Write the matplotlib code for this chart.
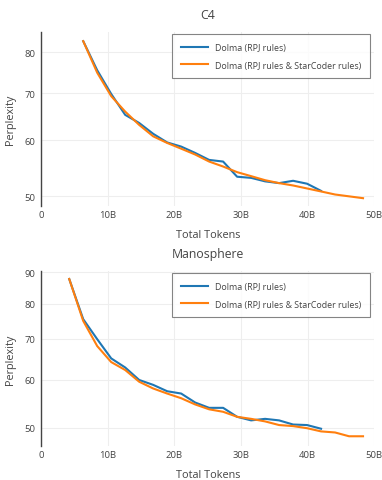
import matplotlib
matplotlib.use("Agg")
import matplotlib.pyplot as plt
from matplotlib.ticker import FixedLocator, NullLocator

plt.rcParams['font.family'] = ['Open Sans', 'DejaVu Sans']

# tokens in billions
c4_tokens_rpj = [6.3, 8.4, 10.5, 12.6, 14.7, 16.8, 18.9, 21.0, 23.1, 25.2,
                 27.3, 29.4, 31.5, 33.6, 35.7, 37.8, 39.9, 42.0]
c4_rpj = [82.9, 75.4, 69.8, 65.2, 63.5, 61.3, 59.6, 58.8, 57.6, 56.3,
          56.0, 53.3, 53.1, 52.5, 52.2, 52.6, 52.1, 50.9]
c4_tokens_sc = [6.3, 8.4, 10.5, 12.6, 14.7, 16.8, 18.9, 21.0, 23.1, 25.2,
                27.3, 29.4, 31.5, 33.6, 35.7, 37.8, 39.9, 42.0, 44.1, 46.2, 48.3]
c4_sc = [82.9, 74.8, 69.3, 65.9, 63.1, 60.8, 59.5, 58.4, 57.3, 56.0,
         55.1, 54.1, 53.4, 52.7, 52.2, 51.8, 51.3, 50.8, 50.3, 50.0, 49.7]

mano_tokens_rpj = [4.2, 6.3, 8.4, 10.5, 12.6, 14.7, 16.8, 18.9, 21.0, 23.1,
                   25.2, 27.3, 29.4, 31.5, 33.6, 35.7, 37.8, 39.9, 42.0]
mano_rpj = [87.8, 75.4, 69.9, 65.0, 62.8, 59.9, 58.8, 57.4, 56.9, 55.0,
            53.9, 53.9, 52.1, 51.4, 51.7, 51.4, 50.6, 50.5, 49.8]
mano_tokens_sc = [4.2, 6.3, 8.4, 10.5, 12.6, 14.7, 16.8, 18.9, 21.0, 23.1,
                  25.2, 27.3, 29.4, 31.5, 33.6, 35.7, 37.8, 39.9, 42.0, 44.1,
                  46.2, 48.3]
mano_sc = [87.8, 74.9, 68.1, 64.1, 62.2, 59.5, 58.0, 56.9, 55.9, 54.6,
           53.6, 53.1, 52.1, 51.7, 51.2, 50.5, 50.3, 49.9, 49.3, 49.1,
           48.4, 48.4]

x_ticks = [0, 10, 20, 30, 40, 50]
x_tick_labels = ['0', '10B', '20B', '30B', '40B', '50B']
labels = ['Dolma (RPJ rules)', 'Dolma (RPJ rules & StarCoder rules)']

BLUE = '#1f77b4'
ORANGE = '#ff7f0e'
TEXT = '#444444'
GRID = '#eeeeee'

fig = plt.figure(figsize=(3.82, 4.81), dpi=100)
ax1 = fig.add_axes([0.108, 0.5703, 0.872, 0.361])
ax2 = fig.add_axes([0.108, 0.0713, 0.872, 0.3632])


def style_panel(ax, title, y_ticks, ylim):
    ax.set_yscale('log')
    ax.set_xlim(0, 50)
    ax.set_ylim(*ylim)
    ax.xaxis.set_major_locator(FixedLocator(x_ticks))
    ax.set_xticklabels(x_tick_labels)
    ax.yaxis.set_major_locator(FixedLocator(y_ticks))
    ax.yaxis.set_minor_locator(NullLocator())
    ax.set_yticklabels([str(t) for t in y_ticks])
    ax.tick_params(length=0, labelsize=6.8, colors=TEXT)
    ax.tick_params(axis='x', pad=3)
    ax.tick_params(axis='y', pad=4)
    ax.grid(True, color=GRID, linewidth=0.8)
    ax.set_axisbelow(True)
    for side in ['top', 'right', 'bottom']:
        ax.spines[side].set_visible(False)
    ax.spines['left'].set_color(TEXT)
    ax.spines['left'].set_linewidth(1.0)
    ax.set_xlabel('Total Tokens', fontsize=7.8, color=TEXT, labelpad=7)
    ax.set_ylabel('Perplexity', fontsize=7.8, color=TEXT, labelpad=6)
    ax.set_title(title, fontsize=8.8, color=TEXT, pad=10)
    leg = ax.legend(labels, loc='upper right', bbox_to_anchor=(0.988, 0.99),
                    fontsize=6.4, frameon=True, fancybox=False,
                    handlelength=3.1, borderpad=1.0, labelspacing=1.0,
                    handletextpad=0.8, borderaxespad=0)
    leg.get_frame().set_edgecolor('#666666')
    leg.get_frame().set_linewidth(0.8)
    for t in leg.get_texts():
        t.set_color(TEXT)


ax1.plot(c4_tokens_rpj, c4_rpj, color=BLUE, linewidth=1.5)
ax1.plot(c4_tokens_sc, c4_sc, color=ORANGE, linewidth=1.5)
style_panel(ax1, 'C4', [50, 60, 70, 80], (48.5, 85.4))

ax2.plot(mano_tokens_rpj, mano_rpj, color=BLUE, linewidth=1.5)
ax2.plot(mano_tokens_sc, mano_sc, color=ORANGE, linewidth=1.5)
style_panel(ax2, 'Manosphere', [50, 60, 70, 80, 90], (46.7, 90.5))

fig.savefig('out.png', dpi=100)
